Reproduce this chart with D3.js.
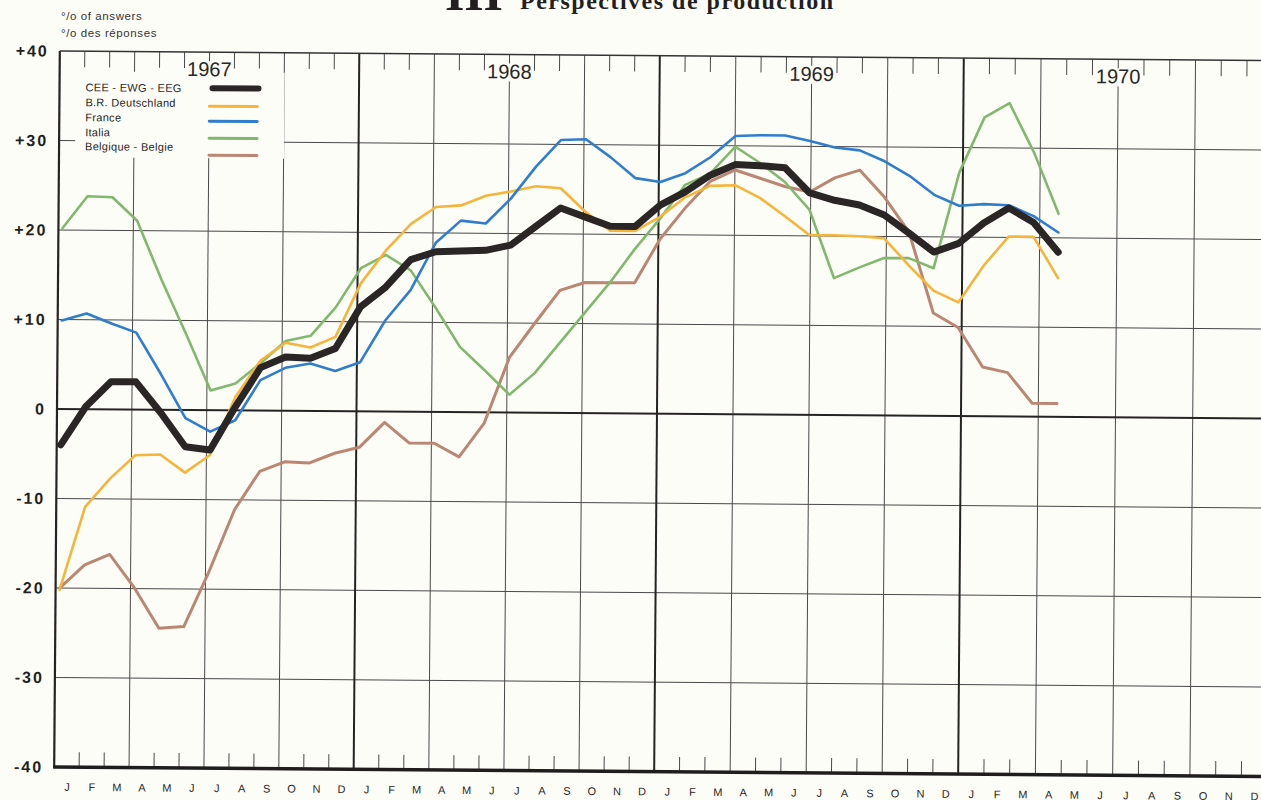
<!DOCTYPE html>
<html><head><meta charset="utf-8">
<script src="https://cdn.jsdelivr.net/npm/d3@7"></script>
<style>
html,body{margin:0;padding:0;background:#fdfdf8;}
svg{display:block;}
</style></head>
<body>
<svg id="chart" width="1261" height="800"></svg>
<script>
// ---- data ----
const months = ["J","F","M","A","M","J","J","A","S","O","N","D"];
const years = ["1967","1968","1969","1970"];
const yTicks = [40,30,20,10,0,-10,-20,-30,-40];
const yTickLabels = ["+40","+30","+20","+10","0","-10","-20","-30","-40"];
const seriesNames = ["CEE - EWG - EEG","B.R. Deutschland","France","Italia","Belgique - Belgie"];
const seriesColors = ["#2a2626","#f5b53a","#2f7dcc","#80b86c","#bb8672"];
const cee = [-4.0,0.3,3.1,3.1,-0.3,-4.1,-4.45,0.4,4.8,6.0,5.9,7.0,
             11.7,13.9,17.0,17.9,18.0,18.1,18.7,20.8,22.9,21.9,20.9,20.9,
             23.3,24.8,26.7,27.9,27.8,27.6,24.8,24.0,23.5,22.4,20.4,18.3,
             19.3,21.6,23.3,21.7,18.4];
const brd = [-20.2,-10.9,-7.7,-5.1,-5.0,-7.0,-5.0,1.5,5.6,7.6,7.1,8.3,
             14.3,18.0,21.0,22.9,23.1,24.2,24.7,25.3,25.1,22.5,20.4,20.4,
             22.0,24.2,25.5,25.6,24.2,22.2,20.1,20.1,20.0,19.8,16.8,14.0,
             12.7,16.8,20.1,20.1,15.5];
const france = [9.9,10.7,9.6,8.6,4.0,-0.9,-2.4,-1.1,3.4,4.8,5.3,4.5,
                5.5,10.2,13.6,18.9,21.4,21.1,23.9,27.5,30.5,30.6,28.6,26.3,
                25.9,26.9,28.7,31.1,31.2,31.2,30.6,29.9,29.6,28.4,26.8,24.7,
                23.5,23.7,23.6,22.4,20.6];
const italia = [20.2,23.8,23.7,21.1,14.5,8.5,2.2,3.0,5.3,7.8,8.4,11.6,
                16.0,17.5,15.8,11.7,7.3,4.7,2.0,4.4,7.8,11.2,14.6,18.4,
                21.8,25.6,26.9,29.9,28.1,26.0,22.9,15.3,16.5,17.6,17.6,16.5,
                27.2,33.4,35.0,29.5,22.7];
const belgique = [-20.0,-17.4,-16.2,-19.9,-24.4,-24.2,-18.0,-11.1,-6.8,-5.7,-5.8,-4.7,
                  -4.0,-1.2,-3.5,-3.5,-5.0,-1.2,6.2,10.0,13.7,14.6,14.6,14.6,
                  19.5,23.0,26.0,27.3,26.4,25.5,24.9,26.5,27.4,24.4,20.5,11.5,
                  9.9,5.5,4.9,1.5,1.5];
const series = [belgique, italia, brd, france, cee];
const seriesIdx = [4,3,1,2,0];

// ---- scales ----
const svg = d3.select("#chart");
const xMonth = d3.scaleLinear().domain([0,12,24,36,48]).range([57,356.5,657,961,1270]);
const xPt = d3.scaleLinear().domain([0, cee.length-1]).range([61, 1057]);
const y = d3.scaleLinear().domain([-40,40]).range([767,51]);
const FONT = "'Liberation Sans',Arial,sans-serif";
const SERIF = "'Liberation Serif','DejaVu Serif',serif";

// ---- title (outside tilt) ----
svg.append("text").attr("x",445).attr("y",10)
  .attr("font-family",SERIF).attr("font-weight","bold")
  .attr("font-size",50).attr("fill","#231f1f").attr("textLength",58).attr("lengthAdjust","spacing")
  .text("III");
svg.append("text").attr("x",520).attr("y",9)
  .attr("font-family",SERIF).attr("font-weight","bold")
  .attr("font-size",24).attr("fill","#231f1f").attr("textLength",313).attr("lengthAdjust","spacing")
  .text("Perspectives de production");
svg.append("text").attr("x",61).attr("y",20)
  .attr("font-family",FONT).attr("font-size",11.5)
  .attr("letter-spacing",0.6).attr("fill","#333").text("°/o of answers");
svg.append("text").attr("x",61).attr("y",37)
  .attr("font-family",FONT).attr("font-size",11.5)
  .attr("letter-spacing",0.6).attr("fill","#333").text("°/o des réponses");

// ---- tilted chart group (scan tilt) ----
const g = svg.append("g").attr("transform","rotate(0.45,57,409)");

const gridCol = "#4a4848";
const BG = "#fdfdf8";
// horizontal gridlines
g.selectAll(".hgrid").data(yTicks.filter(v=>v!==40 && v!==-40 && v!==0)).enter()
  .append("line").attr("x1",xMonth(0)).attr("x2",xMonth(48))
  .attr("y1",d=>y(d)).attr("y2",d=>y(d)).attr("stroke",gridCol).attr("stroke-width",1);
// vertical quarter lines
const quarterM = d3.range(3,48,3).filter(m=>m%12!==0);
g.selectAll(".vgrid").data(quarterM).enter().append("line")
  .attr("x1",d=>xMonth(d)).attr("x2",d=>xMonth(d)).attr("y1",y(40)).attr("y2",y(-40))
  .attr("stroke",gridCol).attr("stroke-width",1);
// month ticks top & bottom
const monthM = d3.range(1,48).filter(m=>m%3!==0);
g.selectAll(".tt").data(monthM).enter().append("line")
  .attr("x1",d=>xMonth(d)).attr("x2",d=>xMonth(d)).attr("y1",y(40)).attr("y2",y(40)+16)
  .attr("stroke",gridCol).attr("stroke-width",1);
g.selectAll(".bt").data(monthM).enter().append("line")
  .attr("x1",d=>xMonth(d)).attr("x2",d=>xMonth(d)).attr("y1",y(-40)).attr("y2",y(-40)-15)
  .attr("stroke",gridCol).attr("stroke-width",1);
// year lines
g.selectAll(".yl").data([12,24,36]).enter().append("line")
  .attr("x1",d=>xMonth(d)).attr("x2",d=>xMonth(d)).attr("y1",y(40)).attr("y2",y(-40))
  .attr("stroke","#262323").attr("stroke-width",2);
// legend background box
g.append("rect").attr("x",73).attr("y",71).attr("width",209).attr("height",86).attr("fill",BG);
// left axis, zero, top, bottom
g.append("line").attr("x1",xMonth(0)).attr("x2",xMonth(0)).attr("y1",y(40)).attr("y2",y(-40)+1)
  .attr("stroke","#262323").attr("stroke-width",2.2);
g.append("line").attr("x1",xMonth(0)).attr("x2",xMonth(48)).attr("y1",y(0)).attr("y2",y(0))
  .attr("stroke","#262323").attr("stroke-width",2);
g.append("line").attr("x1",xMonth(0)).attr("x2",xMonth(48)).attr("y1",y(40)).attr("y2",y(40))
  .attr("stroke","#333").attr("stroke-width",1.4);
g.append("line").attr("x1",xMonth(0)-1).attr("x2",xMonth(48)).attr("y1",y(-40)).attr("y2",y(-40))
  .attr("stroke","#201d1d").attr("stroke-width",3.5);

// year labels
years.forEach((yr,i)=>{
  const t = g.append("text").attr("x",xMonth(6+12*i)).attr("y",75).attr("text-anchor","middle")
    .attr("font-family",FONT).attr("font-size",20).attr("fill","#2a2626").text(yr);
  const b = t.node().getBBox();
  g.insert("rect", function(){return t.node();}).attr("x",b.x-1).attr("y",b.y+3).attr("width",b.width+2).attr("height",b.height-4).attr("fill",BG);
});

// y axis labels
const yAxis = d3.axisLeft(y).tickValues(yTicks).tickFormat((d,i)=>yTickLabels[i]).tickSize(0).tickPadding(11);
const ya = g.append("g").attr("transform",`translate(${xMonth(0)},0)`).call(yAxis);
ya.select(".domain").remove();
ya.selectAll("text").attr("font-family",FONT).attr("font-weight","bold")
  .attr("font-size",16).attr("letter-spacing",2).attr("fill","#231f1f");

// month labels
const xAxis = d3.axisBottom(xMonth).tickValues(d3.range(48).map(m=>m+0.5))
  .tickFormat(d=>months[Math.floor(d)%12]).tickSize(0).tickPadding(16);
const xa = g.append("g").attr("transform",`translate(0,${y(-40)})`).call(xAxis);
xa.select(".domain").remove();
xa.selectAll("text").attr("font-family",FONT)
  .attr("font-size",11).attr("fill","#2a2626");

// legend
const legY = [91,106,121,136,150];
const legLineY = [87,105,120,137,154];
seriesNames.forEach((n,i)=>{
  g.append("text").attr("x",83).attr("y",legY[i]).attr("font-family",FONT)
    .attr("font-size",11).attr("letter-spacing",0.3).attr("fill","#2a2626").text(n);
  g.append("line").attr("x1",i===0?210:207).attr("x2",i===0?256:255).attr("y1",legLineY[i]).attr("y2",legLineY[i])
    .attr("stroke",seriesColors[i]).attr("stroke-width",i===0?6:3).attr("stroke-linecap","round");
});

// data lines
const line = d3.line().x((d,i)=>xPt(i)).y(d=>y(d));
series.forEach((s,j)=>{
  const idx = seriesIdx[j];
  g.append("path").datum(s).attr("d",line).attr("fill","none")
    .attr("stroke",seriesColors[idx]).attr("stroke-width",idx===0?7:(idx===4?3:2.6))
    .attr("stroke-linejoin","round").attr("stroke-linecap","round");
});
</script>
</body></html>
